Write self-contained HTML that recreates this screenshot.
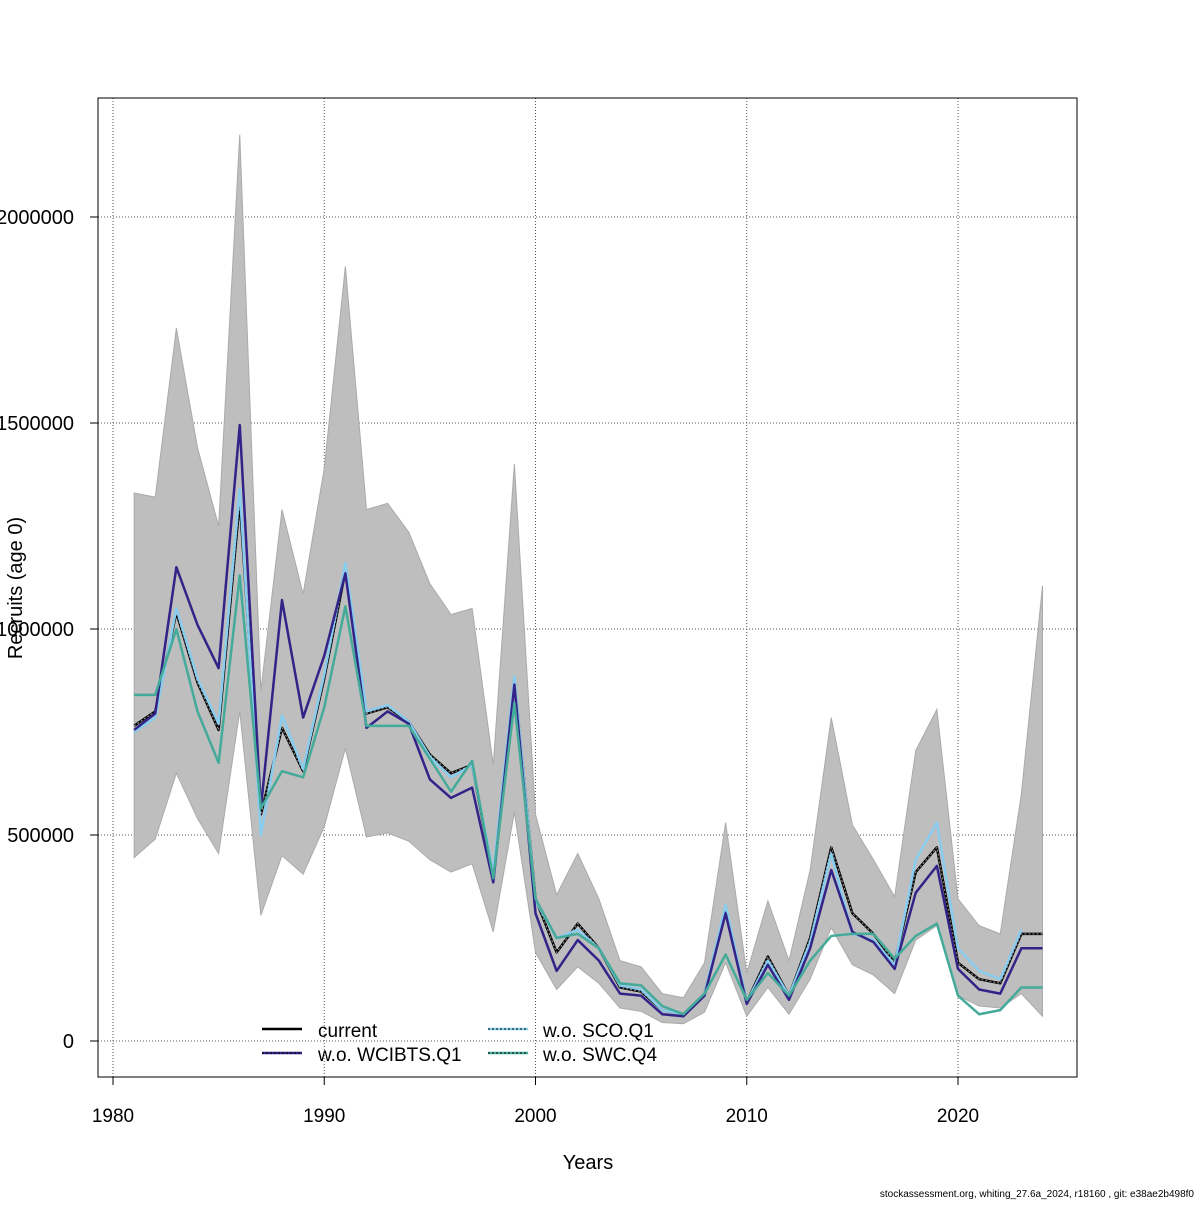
<!DOCTYPE html>
<html><head><meta charset="utf-8"><style>
body{margin:0;background:#fff}
svg text{font-family:"Liberation Sans",sans-serif}
</style></head><body>
<svg width="1200" height="1200" xmlns="http://www.w3.org/2000/svg">
<g id="grid"></g>
<g id="band"></g>
<g id="lines"></g>
<rect x="98" y="98" width="979" height="979" fill="none" stroke="#000"/>
<g id="axes"></g>
<text x="588" y="1169" font-size="20" text-anchor="middle">Years</text>
<text transform="translate(22,588) rotate(-90)" font-size="20" text-anchor="middle">Recruits (age 0)</text>
<text x="1194" y="1197" font-size="10" text-anchor="end">stockassessment.org, whiting_27.6a_2024, r18160 , git: e38ae2b498f0</text>
<g>
<line x1="262" y1="1029" x2="302" y2="1029" stroke="#000" stroke-width="2.5"/>
<text x="318" y="1037" font-size="19">current</text>
<line x1="262" y1="1053" x2="302" y2="1053" stroke="#332288" stroke-width="2.5"/>
<line x1="262" y1="1053" x2="302" y2="1053" stroke="#000" stroke-width="1" stroke-dasharray="2,2"/>
<text x="318" y="1061" font-size="19">w.o. WCIBTS.Q1</text>
<line x1="488" y1="1029" x2="528" y2="1029" stroke="#88ccee" stroke-width="2.5"/>
<line x1="488" y1="1029" x2="528" y2="1029" stroke="#000" stroke-width="1" stroke-dasharray="2,2"/>
<text x="543" y="1037" font-size="19">w.o. SCO.Q1</text>
<line x1="488" y1="1053" x2="528" y2="1053" stroke="#44aa99" stroke-width="2.5"/>
<line x1="488" y1="1053" x2="528" y2="1053" stroke="#000" stroke-width="1" stroke-dasharray="2,2"/>
<text x="543" y="1061" font-size="19">w.o. SWC.Q4</text>
</g>
</svg>
<script>
const years=[];for(let y=1981;y<=2024;y++)years.push(y);
const upper=[1330,1320,1730,1440,1250,2200,850,1290,1085,1390,1880,1290,1305,1235,1110,1035,1050,670,1400,550,355,455,345,195,180,115,105,190,530,165,340,195,415,785,525,440,350,705,805,345,280,260,600,1105];
const lower=[445,490,650,540,455,800,305,450,405,520,710,495,505,485,440,410,430,265,555,215,125,180,140,80,72,45,42,70,190,60,130,65,150,275,185,160,115,245,280,110,85,80,115,60];
const current=[765,800,1040,870,755,1310,550,760,655,880,1140,795,810,775,695,650,670,400,880,345,215,285,225,130,120,75,65,115,320,95,205,110,250,470,310,260,190,410,470,190,150,140,260,260];
const woSCO=[750,785,1050,880,770,1340,500,790,660,890,1160,800,815,775,690,640,670,410,885,340,250,270,225,135,125,75,65,115,330,95,195,110,240,455,260,245,185,440,530,225,170,150,270];
const woWCIBTS=[755,795,1150,1010,905,1495,565,1070,785,935,1135,760,800,770,635,590,615,385,865,310,170,245,195,115,110,65,60,110,310,90,185,100,225,415,265,240,175,360,425,175,125,115,225,225];
const woSWC=[840,840,1000,800,675,1130,565,655,640,810,1055,765,765,765,685,605,680,395,820,345,250,260,225,140,135,85,65,115,210,100,165,110,195,255,260,260,200,255,285,110,65,75,130,130];
const xTicks=[1980,1990,2000,2010,2020];
const yTicks=[0,500000,1000000,1500000,2000000];
const NS="http://www.w3.org/2000/svg";
const sx=y=>113+(y-1980)*21.125;
const sy=v=>1041-v*0.000412;
function mk(tag,at,parent){const e=document.createElementNS(NS,tag);for(const k in at)e.setAttribute(k,at[k]);parent.appendChild(e);return e;}
const grid=document.getElementById('grid'),axes=document.getElementById('axes');
xTicks.forEach(t=>{
 const l=mk('line',{x1:sx(t),x2:sx(t),y1:98,y2:1077,stroke:'#555','stroke-dasharray':'1,2'},grid);
 
 
 const k=mk('line',{x1:sx(t),x2:sx(t),y1:1077,y2:1085,stroke:'#000'},axes);
 
 
 const tx=mk('text',{x:sx(t),y:1122,'font-size':19,'text-anchor':'middle'},axes);tx.textContent=t;
 
 
});
yTicks.forEach(t=>{
 const l=mk('line',{x1:98,x2:1077,y1:sy(t),y2:sy(t),stroke:'#555','stroke-dasharray':'1,2'},grid);
 
 
 const k=mk('line',{x1:90,x2:98,y1:sy(t),y2:sy(t),stroke:'#000'},axes);
 
 
 const tx=mk('text',{x:74,y:sy(t)+7,'font-size':20,'text-anchor':'end'},axes);tx.textContent=t;
 
 
});
let pts=years.map((y,i)=>sx(y)+','+sy(upper[i]*1000));
for(let i=years.length-1;i>=0;i--)pts.push(sx(years[i])+','+sy(lower[i]*1000));
const band=mk('polygon',{points:pts.join(' '),fill:'#bebebe',stroke:'#aaa','stroke-width':1},document.getElementById('band'));


const lg=document.getElementById('lines');
function line(arr,color,name,dots){
 const p=arr.map((v,i)=>sx(years[i])+','+sy(v*1000)).join(' ');
 const e=mk('polyline',{points:p,fill:'none',stroke:color,'stroke-width':2.5,'stroke-linejoin':'round'},lg);
 
 
 if(dots){const d=mk('polyline',{points:p,fill:'none',stroke:dots,'stroke-width':1,'stroke-dasharray':'2,2'},lg);
 
 }
}
line(current,'#000','line-current','#999');
line(woSCO,'#88ccee','line-wo-sco');
line(woWCIBTS,'#332288','line-wo-wcibts');
line(woSWC,'#44aa99','line-wo-swc');
</script>
</body></html>
